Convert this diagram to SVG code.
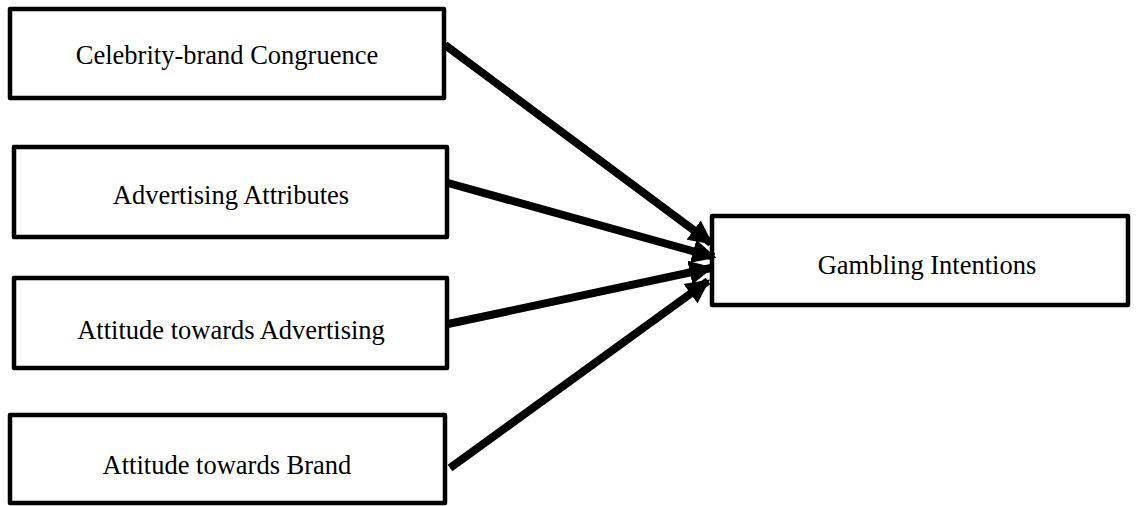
<svg xmlns="http://www.w3.org/2000/svg" width="1136" height="506" viewBox="0 0 1136 506">
<style>
.box{fill:#fff;stroke:#000;stroke-width:4.5;stroke-linejoin:round}
.lbl{font-family:"Liberation Serif","Times New Roman",serif;font-size:26.5px;fill:#000;text-anchor:middle}
.arr{stroke:#000;stroke-width:8;fill:none}
</style>
<defs>
<marker id="ah" viewBox="0 0 10 10" refX="9" refY="5" markerWidth="3" markerHeight="3.1" orient="auto" markerUnits="strokeWidth">
<path d="M0,0 L10,5 L0,10 z" fill="#000"/>
</marker>
</defs>
<g id="n1"><rect class="box" x="10" y="9" width="434" height="89"/><text class="lbl" x="227" y="64">Celebrity-brand Congruence</text></g>
<g id="n2"><rect class="box" x="14" y="147" width="433" height="90"/><text class="lbl" x="231" y="204">Advertising Attributes</text></g>
<g id="n3"><rect class="box" x="14" y="278" width="433" height="90"/><text class="lbl" x="231" y="339">Attitude towards Advertising</text></g>
<g id="n4"><rect class="box" x="10" y="415" width="435" height="88"/><text class="lbl" x="227" y="474">Attitude towards Brand</text></g>
<g id="n5"><rect class="box" x="712" y="216" width="416" height="89"/><text class="lbl" x="927" y="274">Gambling Intentions</text></g>
<g id="connectors">
<line class="arr" x1="445" y1="45" x2="711" y2="243" marker-end="url(#ah)"/>
<line class="arr" x1="448" y1="183" x2="714" y2="257" marker-end="url(#ah)"/>
<line class="arr" x1="448" y1="324" x2="711" y2="268" marker-end="url(#ah)"/>
<line class="arr" x1="450" y1="468" x2="708" y2="281" marker-end="url(#ah)"/>
</g>
</svg>
